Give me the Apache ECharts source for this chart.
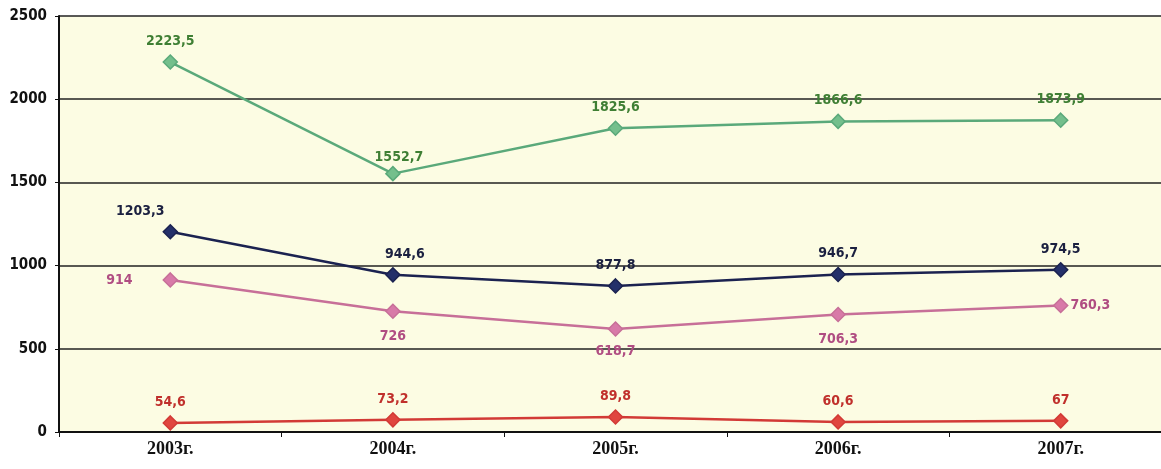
<!DOCTYPE html>
<html>
<head>
<meta charset="utf-8">
<script src="https://cdn.jsdelivr.net/npm/echarts@6/dist/echarts.min.js"></script>
<style>
  html, body { margin: 0; padding: 0; background: #ffffff; overflow: hidden; }
  #main { width: 1172px; height: 469px; }
</style>
</head>
<body>
<div id="main"></div>
<script>
var years = ['2003г.', '2004г.', '2005г.', '2006г.', '2007г.'];
var greenVals = [2223.5, 1552.7, 1825.6, 1866.6, 1873.9];
var navyVals = [1203.3, 944.6, 877.8, 946.7, 974.5];
var pinkVals = [914, 726, 618.7, 706.3, 760.3];
var redVals = [54.6, 73.2, 89.8, 60.6, 67];
var yTicks = [0, 500, 1000, 1500, 2000, 2500];

var narrow = '"DejaVu Sans Condensed", "Liberation Sans Narrow", sans-serif';

// chart is a bit wider than the window: the plot runs off the right edge in the original
var mychart = echarts.init(document.getElementById('main'));

function fmt(p) {
    return String(p.value).replace('.', ',');
}

function lbl(color) {
    return {
        show: true,
        position: 'top',
        distance: 6,
        color: color,
        fontFamily: narrow,
        fontWeight: 'bold',
        fontSize: 14,
        formatter: fmt
    };
}

function mkSeries(name, vals, lineColor, markColor, textColor, posList) {
    return {
        name: name,
        type: 'line',
        data: vals.map(function (v, i) {
            var d = {value: v};
            if (posList && posList[i]) {
                d.label = posList[i];
            }
            return d;
        }),
        symbol: 'diamond',
        symbolSize: 14,
        lineStyle: {color: lineColor, width: 2.5},
        itemStyle: {color: markColor, borderColor: lineColor, borderWidth: 1.5},
        label: lbl(textColor),
        z: 3
    };
}

var option = {
    backgroundColor: '#ffffff',
    animation: false,
    grid: {
        left: 59,
        right: 0,
        top: 16,
        bottom: 37,
        show: true,
        backgroundColor: '#fcfce3',
        borderWidth: 0
    },
    xAxis: {
        type: 'category',
        boundaryGap: true,
        data: years,
        axisLine: {lineStyle: {color: '#111', width: 2}},
        axisTick: {show: true, length: 5, lineStyle: {color: '#111'}},
        axisLabel: {
            color: '#111',
            fontFamily: 'Liberation Serif, serif',
            fontWeight: 'bold',
            fontSize: 18,
            margin: 8
        }
    },
    yAxis: {
        type: 'value',
        min: 0,
        max: 2500,
        interval: 500,
        axisLine: {show: true, lineStyle: {color: '#111', width: 2}},
        axisTick: {show: true, length: 4, lineStyle: {color: '#111'}},
        splitLine: {lineStyle: {color: '#222', width: 1.5}},
        axisLabel: {
            color: '#111',
            fontFamily: narrow,
            fontWeight: 'bold',
            fontSize: 15,
            margin: 12,
            formatter: function (v) { return yTicks.indexOf(v) >= 0 ? String(v) : ''; }
        }
    },
    series: [
        mkSeries('green', greenVals, '#5aa97a', '#74bf8c', '#3f7f34', [
            null, {offset: [6, 4]}, null, null, null
        ]),
        mkSeries('navy', navyVals, '#1b2250', '#24306a', '#1b2040', [
            {offset: [-30, 0]}, {offset: [12, 0]}, null, null, null
        ]),
        mkSeries('pink', pinkVals, '#c76f98', '#d87aa8', '#b04d82', [
            {position: 'left', distance: 30},
            {position: 'bottom', distance: 10},
            {position: 'bottom', distance: 8},
            {position: 'bottom', distance: 10},
            {position: 'right', distance: 2}
        ]),
        mkSeries('red', redVals, '#d23a36', '#e0463f', '#c0302c', null)
    ]
};

mychart.setOption(option);
</script>
</body>
</html>
